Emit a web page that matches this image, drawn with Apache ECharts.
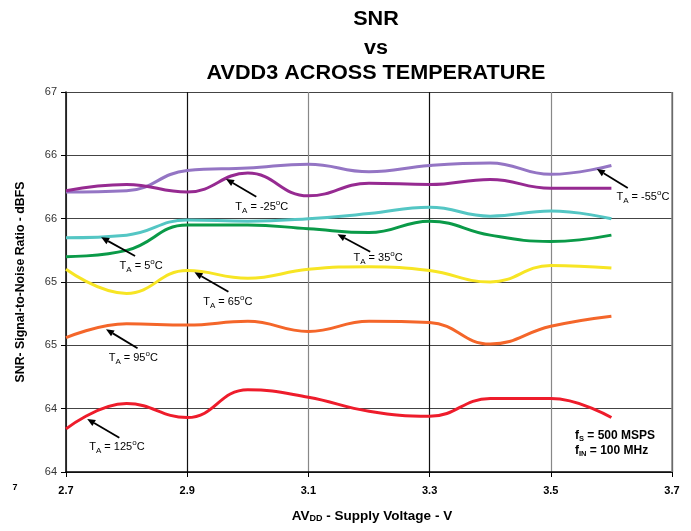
<!DOCTYPE html>
<html>
<head>
<meta charset="utf-8">
<script src="https://cdn.jsdelivr.net/npm/echarts@6/dist/echarts.min.js"></script>
<style>html,body{margin:0;padding:0;background:#fff}#c{width:691px;height:531px}</style>
</head>
<body>
<div id="c"></div>
<script>
// ---- data ----
var voltages = [2.7, 2.8, 2.9, 3.0, 3.1, 3.2, 3.3, 3.4, 3.5, 3.6];
var snrM55 = [66.21, 66.22, 66.38, 66.40, 66.43, 66.37, 66.42, 66.44, 66.35, 66.42];
var snrM25 = [66.22, 66.27, 66.21, 66.36, 66.18, 66.28, 66.27, 66.31, 66.24, 66.24];
var snr5   = [65.85, 65.87, 65.99, 65.98, 66.00, 66.04, 66.09, 66.02, 66.06, 66.00];
var snr35  = [65.70, 65.75, 65.95, 65.95, 65.92, 65.89, 65.98, 65.87, 65.82, 65.87];
var snr65  = [65.60, 65.41, 65.59, 65.53, 65.60, 65.62, 65.59, 65.50, 65.63, 65.61];
var snr95  = [65.06, 65.17, 65.16, 65.19, 65.11, 65.19, 65.18, 65.01, 65.15, 65.23];
var snr125 = [64.34, 64.54, 64.43, 64.65, 64.59, 64.48, 64.44, 64.58, 64.58, 64.43];
var xTicks = [2.7, 2.9, 3.1, 3.3, 3.5, 3.7];
var yTicks = [64, 64.5, 65, 65.5, 66, 66.5, 67];
var seriesNames = ['-55', '-25', '5', '35', '65', '95', '125'];
var seriesColors = ['#9475c4', '#962a91', '#54c6c4', '#0a9a48', '#f7e524', '#f4662a', '#ee1c2b'];
// annotations: [label temp, arrow tip [V, dB], arrow tail [V, dB], label centre [V, dB]]
var annotations = [
  ['-55', [3.576, 66.392], [3.627, 66.242], [3.652, 66.171]],
  ['-25', [2.964, 66.313], [3.014, 66.173], [3.023, 66.094]],
  ['5',   [2.758, 65.853], [2.814, 65.705], [2.824, 65.626]],
  ['35',  [3.148, 65.877], [3.202, 65.739], [3.215, 65.689]],
  ['65',  [2.912, 65.577], [2.968, 65.423], [2.967, 65.344]],
  ['95',  [2.766, 65.127], [2.818, 64.977], [2.811, 64.900]],
  ['125', [2.735, 64.418], [2.788, 64.271], [2.784, 64.200]]
];
var allSeries = [snrM55, snrM25, snr5, snr35, snr65, snr95, snr125];

var FONT = '"Liberation Sans", Arial, sans-serif';
var chart = echarts.init(document.getElementById('c'), null, {renderer: 'canvas'});

var series = allSeries.map(function (vals, i) {
  return {
    name: 'TA = ' + seriesNames[i] + '°C',
    type: 'line',
    data: vals.map(function (v, j) { return [voltages[j], v]; }),
    smooth: 0.45,
    showSymbol: false,
    symbol: 'none',
    lineStyle: {color: seriesColors[i], width: 3},
    itemStyle: {color: seriesColors[i]},
    z: 3,
    animation: false
  };
});

chart.setOption({
  animation: false,
  backgroundColor: '#fff',
  grid: {left: 66, right: 19, top: 92, bottom: 59, containLabel: false},
  xAxis: {
    type: 'value', min: 2.7, max: 3.7, interval: 0.1,
    axisLine: {show: true, lineStyle: {color: '#000', width: 1.5}},
    axisTick: {show: true, length: 5, lineStyle: {color: '#000'}, customValues: xTicks},
    axisLabel: {customValues: xTicks, color: '#000', fontFamily: FONT, fontSize: 11, fontWeight: 'bold', margin: 13,
      formatter: function (v) { return v.toFixed(1); }},
    splitLine: {show: true, lineStyle: {color: ['#888', '#111'], width: 1.2}},
    name: 'AV{s|DD} - Supply Voltage - V',
    nameLocation: 'middle', nameGap: 37,
    nameTextStyle: {color: '#000', fontFamily: FONT, fontSize: 13.5, fontWeight: 'bold', padding: [0, 0, 0, 6],
      rich: {s: {fontSize: 9, fontWeight: 'bold', fontFamily: FONT, lineHeight: 9, verticalAlign: 'bottom'}}}
  },
  yAxis: {
    type: 'value', min: 64, max: 67, interval: 0.5,
    axisLine: {show: true, lineStyle: {color: '#000', width: 1.5}},
    axisTick: {show: true, length: 5, lineStyle: {color: '#000'}},
    axisLabel: {color: '#333', fontFamily: FONT, fontSize: 11, margin: 9,
      formatter: function (v) { return String(Math.floor(v + 1e-9)); }},
    splitLine: {show: true, lineStyle: {color: '#444', width: 1.2}},
    name: 'SNR- Signal-to-Noise Ratio - dBFS',
    nameLocation: 'middle', nameGap: 39,
    nameTextStyle: {color: '#000', fontFamily: FONT, fontSize: 12.3, fontWeight: 'bold'}
  },
  series: series
});

var g = [];
function px(p) { return chart.convertToPixel({gridIndex: 0}, p); }
var rightTop = px([3.7, 67]), rightBot = px([3.7, 64]);
g.push({type: 'line', shape: {x1: rightTop[0], y1: rightTop[1], x2: rightBot[0], y2: rightBot[1]},
  style: {stroke: '#888', lineWidth: 1.5}, z: 50});

var titleLines = [['SNR', 19], ['vs', 48], ['AVDD3 ACROSS TEMPERATURE', 73]];
titleLines.forEach(function (t) {
  g.push({type: 'text', x: 376, y: t[1], scaleX: 1.08, style: {text: t[0], fill: '#000', font: 'bold 20px ' + FONT,
    textAlign: 'center', textVerticalAlign: 'middle'}, z: 10});
});

annotations.forEach(function (a) {
  var tip = px(a[1]), tail = px(a[2]), lab = px(a[3]);
  var dx = tip[0] - tail[0], dy = tip[1] - tail[1];
  var len = Math.sqrt(dx * dx + dy * dy), ux = dx / len, uy = dy / len;
  var hl = 8, hw = 3.5;
  var bx = tip[0] - ux * hl, by = tip[1] - uy * hl;
  g.push({type: 'line', shape: {x1: tail[0], y1: tail[1], x2: bx, y2: by},
    style: {stroke: '#000', lineWidth: 1.8}, z: 6});
  g.push({type: 'polygon', shape: {points: [[tip[0], tip[1]], [bx - uy * hw, by + ux * hw], [bx + uy * hw, by - ux * hw]]},
    style: {fill: '#000'}, z: 6});
  g.push({type: 'text', x: lab[0], y: lab[1], style: {
    text: 'T{s|A} = ' + a[0] + '{o|o}C',
    fill: '#000', fontFamily: FONT, fontSize: 11, lineHeight: 16, align: 'center', verticalAlign: 'middle',
    rich: {
      s: {fontSize: 8, fontFamily: FONT, lineHeight: 8, verticalAlign: 'bottom', fill: '#000'},
      o: {fontSize: 8, fontFamily: FONT, lineHeight: 8, verticalAlign: 'top', fill: '#000'}
    }}, z: 7});
});

var fsLines = [['f{s|S} = 500 MSPS', 436], ['f{s|IN} = 100 MHz', 451]];
fsLines.forEach(function (t) {
  g.push({type: 'text', x: 575, y: t[1], style: {text: t[0], fill: '#000', fontFamily: FONT,
    fontSize: 12, fontWeight: 'bold', lineHeight: 14, verticalAlign: 'middle',
    rich: {s: {fontSize: 7.5, fontWeight: 'bold', fontFamily: FONT, lineHeight: 7, verticalAlign: 'bottom', fill: '#000'}}}, z: 7});
});
g.push({type: 'text', x: 15, y: 488, style: {text: '7', fill: '#000', font: 'bold 9px ' + FONT,
  textAlign: 'center', textVerticalAlign: 'middle'}, z: 7});

chart.setOption({graphic: g});
</script>
</body>
</html>
